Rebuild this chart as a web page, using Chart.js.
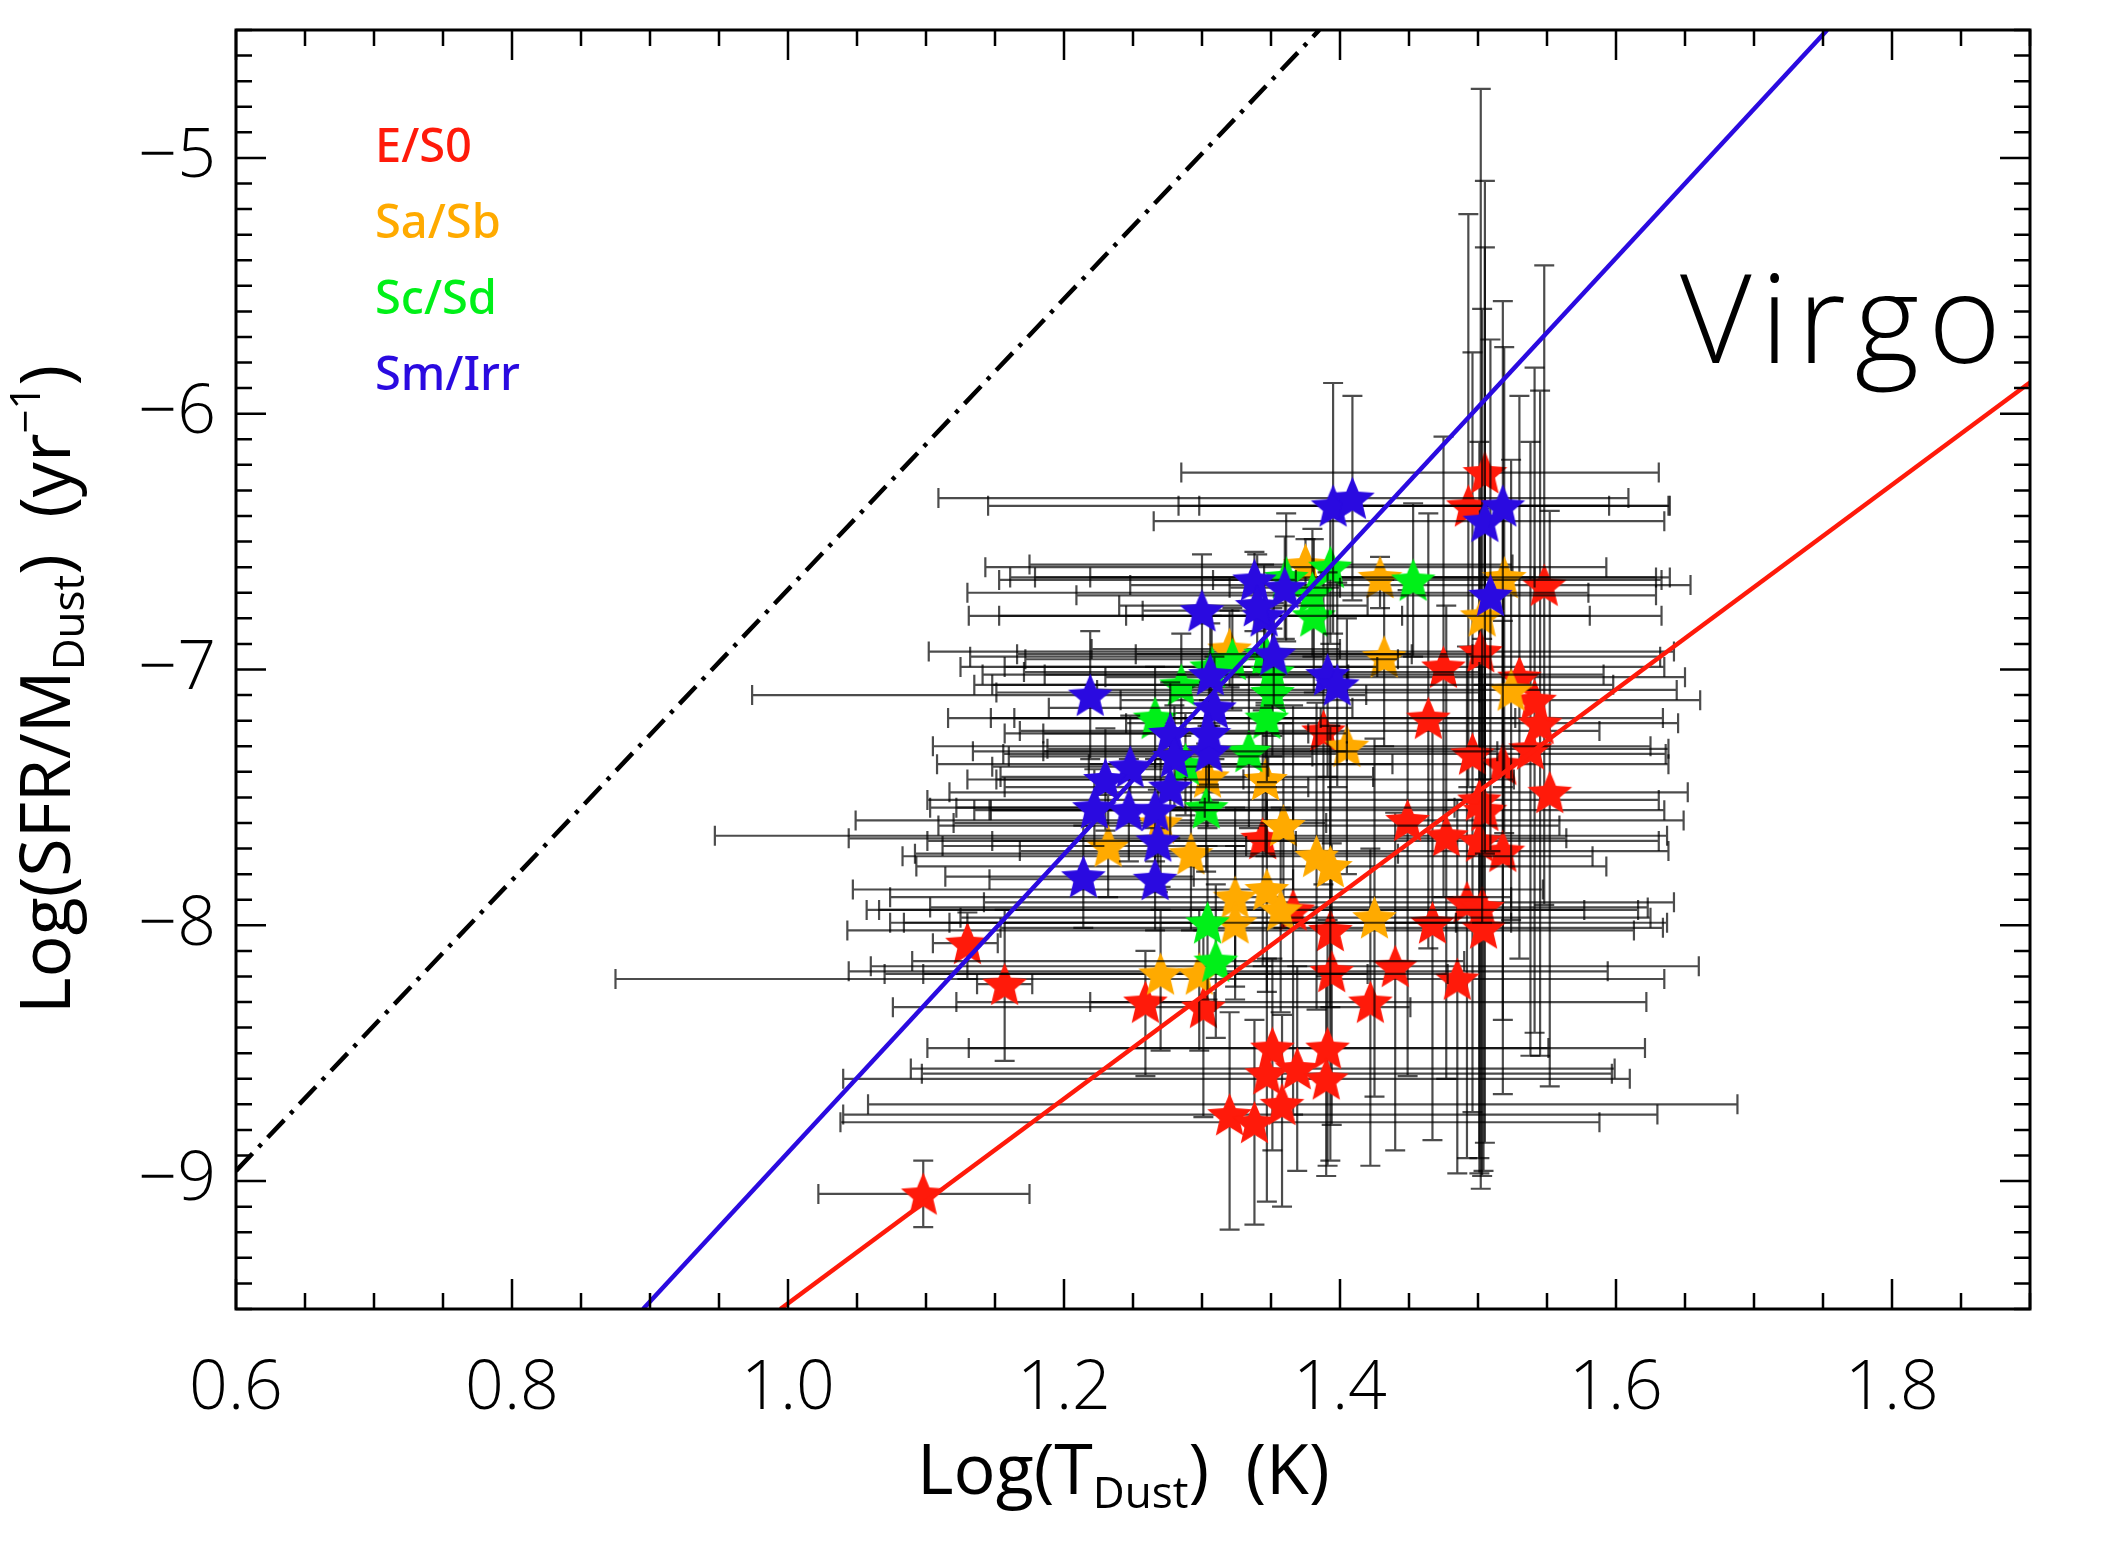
<!DOCTYPE html>
<html>
<head>
<meta charset="utf-8">
<title>Virgo - Log(SFR/Mdust) vs Log(Tdust)</title>
<script src="https://cdn.jsdelivr.net/npm/chart.js@4.4.1/dist/chart.umd.min.js"></script>
<style>
  html, body { margin: 0; padding: 0; background: #fff; }
  #wrap { width: 2115px; height: 1544px; }
</style>
</head>
<body>
<div id="wrap"><canvas id="chart" width="2115" height="1544"></canvas></div>
<script>
/* =========================
   DATA
========================= */
// E/S0
const redX   = [1.098, 1.130, 1.157, 1.259, 1.301, 1.351, 1.347, 1.369, 1.358, 1.320, 1.338, 1.394, 1.440, 1.422, 1.485, 1.391, 1.390, 1.388, 1.464, 1.496, 1.518, 1.538, 1.545, 1.552, 1.501, 1.505, 1.449, 1.477, 1.501, 1.518, 1.492, 1.503, 1.504, 1.467, 1.393, 1.366, 1.344, 1.505, 1.493, 1.548, 1.475, 1.502, 1.530, 1.541];
const redY   = [-9.05, -8.07, -8.23, -8.30, -8.32, -8.48, -8.58, -8.56, -8.70, -8.74, -8.77, -8.18, -8.16, -8.30, -8.21, -8.48, -8.60, -7.24, -7.19, -7.33, -7.37, -7.31, -7.21, -7.48, -7.51, -7.55, -7.59, -7.65, -7.67, -7.71, -7.91, -7.93, -8.01, -7.99, -8.02, -7.94, -7.66, -6.23, -6.36, -6.67, -6.99, -6.93, -7.03, -7.12];
const redXLo = [0.076, 0.025, 0.020, 0.040, 0.225, 0.250, 0.250, 0.280, 0.300, 0.280, 0.300, 0.350, 0.380, 0.300, 0.610, 0.260, 0.350, 0.220, 0.300, 0.340, 0.300, 0.350, 0.300, 0.435, 0.400, 0.370, 0.400, 0.530, 0.400, 0.350, 0.350, 0.400, 0.350, 0.350, 0.350, 0.300, 0.300, 0.220, 0.210, 0.300, 0.350, 0.400, 0.300, 0.300];
const redXHi = [0.077, 0.022, 0.020, 0.050, 0.150, 0.200, 0.250, 0.230, 0.330, 0.310, 0.250, 0.200, 0.220, 0.200, 0.150, 0.230, 0.220, 0.200, 0.170, 0.140, 0.120, 0.100, 0.100, 0.100, 0.130, 0.130, 0.200, 0.160, 0.130, 0.120, 0.150, 0.120, 0.130, 0.170, 0.220, 0.250, 0.220, 0.126, 0.146, 0.106, 0.160, 0.140, 0.120, 0.120];
const redYLo = [0.13, 0.14, 0.30, 0.29, 0.43, 0.40, 0.50, 0.40, 0.40, 0.45, 0.40, 0.60, 0.72, 0.64, 0.76, 0.46, 0.38, 0.60, 0.90, 1.40, 1.00, 1.20, 1.30, 1.15, 1.40, 1.30, 1.00, 0.95, 1.30, 0.95, 1.00, 1.05, 0.95, 0.85, 0.90, 0.80, 0.50, 1.20, 1.10, 1.25, 0.90, 2.10, 1.10, 1.30];
const redYHi = [0.13, 0.12, 0.29, 0.20, 0.30, 0.35, 0.45, 0.40, 0.35, 0.40, 0.40, 0.50, 0.60, 0.60, 0.70, 0.50, 0.40, 0.60, 0.80, 1.57, 1.00, 1.20, 1.30, 1.10, 1.40, 1.30, 0.90, 0.90, 1.30, 0.90, 1.00, 1.05, 0.95, 0.80, 0.80, 0.80, 0.50, 1.14, 1.14, 1.25, 0.90, 2.20, 1.10, 1.30];

// Sa/Sb
const orangeX   = [1.375, 1.429, 1.432, 1.519, 1.503, 1.524, 1.320, 1.304, 1.346, 1.359, 1.232, 1.292, 1.270, 1.324, 1.347, 1.357, 1.324, 1.383, 1.393, 1.425, 1.405, 1.270, 1.298];
const orangeY   = [-6.59, -6.64, -6.95, -6.64, -6.79, -7.08, -6.92, -7.42, -7.43, -7.61, -7.69, -7.72, -7.60, -7.89, -7.86, -7.94, -7.99, -7.73, -7.77, -7.97, -7.30, -8.19, -8.19];
const orangeXLo = [0.20, 0.25, 0.30, 0.30, 0.35, 0.30, 0.10, 0.15, 0.195, 0.25, 0.12, 0.20, 0.15, 0.25, 0.30, 0.30, 0.25, 0.30, 0.30, 0.30, 0.30, 0.20, 0.20];
const orangeXHi = [0.15, 0.20, 0.20, 0.12, 0.13, 0.12, 0.08, 0.12, 0.18, 0.20, 0.10, 0.15, 0.12, 0.20, 0.20, 0.22, 0.20, 0.20, 0.20, 0.20, 0.22, 0.15, 0.18];
const orangeYLo = [0.15, 0.12, 0.35, 1.00, 1.20, 0.90, 0.15, 0.20, 0.30, 0.40, 0.20, 0.30, 0.25, 0.35, 0.40, 0.40, 0.30, 0.60, 0.55, 0.70, 0.50, 0.30, 0.30];
const orangeYHi = [0.10, 0.08, 0.30, 0.90, 1.20, 0.90, 0.15, 0.20, 0.30, 0.40, 0.20, 0.30, 0.25, 0.35, 0.40, 0.40, 0.30, 0.60, 0.55, 0.70, 0.50, 0.25, 0.25];

// Sc/Sd
const greenX   = [1.453, 1.393, 1.381, 1.380, 1.361, 1.266, 1.347, 1.334, 1.303, 1.288, 1.304, 1.310, 1.285, 1.322, 1.346, 1.351, 1.307, 1.351];
const greenY   = [-6.65, -6.60, -6.79, -6.70, -6.64, -7.19, -7.19, -7.32, -7.54, -7.37, -7.99, -8.14, -7.06, -6.96, -6.94, -7.01, -6.99, -7.09];
const greenXLo = [0.30, 0.25, 0.25, 0.25, 0.20, 0.15, 0.20, 0.20, 0.20, 0.18, 0.22, 0.22, 0.15, 0.15, 0.18, 0.18, 0.15, 0.20];
const greenXHi = [0.18, 0.20, 0.20, 0.20, 0.18, 0.12, 0.18, 0.18, 0.18, 0.15, 0.18, 0.18, 0.12, 0.12, 0.15, 0.15, 0.12, 0.15];
const greenYLo = [0.30, 0.30, 0.30, 0.25, 0.25, 0.20, 0.25, 0.30, 0.25, 0.20, 0.30, 0.30, 0.20, 0.20, 0.20, 0.25, 0.20, 0.25];
const greenYHi = [0.30, 0.25, 0.30, 0.25, 0.25, 0.20, 0.25, 0.30, 0.25, 0.20, 0.30, 0.30, 0.20, 0.20, 0.20, 0.25, 0.20, 0.25];

// Sm/Irr
const blueX   = [1.219, 1.300, 1.338, 1.360, 1.345, 1.352, 1.306, 1.395, 1.409, 1.505, 1.518, 1.509, 1.391, 1.398, 1.309, 1.277, 1.280, 1.305, 1.248, 1.230, 1.277, 1.222, 1.247, 1.266, 1.268, 1.214, 1.266, 1.340, 1.305];
const blueY   = [-7.10, -6.77, -6.65, -6.68, -6.79, -6.94, -7.02, -6.36, -6.33, -6.42, -6.36, -6.71, -7.02, -7.06, -7.15, -7.25, -7.34, -7.32, -7.38, -7.43, -7.46, -7.54, -7.55, -7.55, -7.67, -7.81, -7.82, -6.75, -7.25];
const blueXLo = [0.245, 0.043, 0.030, 0.040, 0.10, 0.10, 0.12, 0.25, 0.30, 0.24, 0.22, 0.30, 0.25, 0.25, 0.12, 0.12, 0.12, 0.12, 0.10, 0.10, 0.12, 0.10, 0.10, 0.12, 0.12, 0.10, 0.12, 0.10, 0.12];
const blueXHi = [0.200, 0.033, 0.030, 0.040, 0.10, 0.10, 0.10, 0.20, 0.20, 0.13, 0.12, 0.12, 0.20, 0.20, 0.10, 0.10, 0.10, 0.10, 0.10, 0.10, 0.10, 0.08, 0.10, 0.10, 0.10, 0.08, 0.10, 0.08, 0.10];
const blueYLo = [0.25, 0.30, 0.20, 0.20, 0.20, 0.20, 0.20, 0.50, 0.40, 1.30, 1.10, 1.00, 0.40, 0.40, 0.20, 0.20, 0.20, 0.20, 0.20, 0.20, 0.20, 0.15, 0.20, 0.20, 0.20, 0.20, 0.20, 0.20, 0.20];
const blueYHi = [0.25, 0.22, 0.11, 0.20, 0.20, 0.20, 0.20, 0.48, 0.40, 1.07, 0.80, 1.00, 0.40, 0.40, 0.20, 0.20, 0.20, 0.20, 0.20, 0.20, 0.20, 0.15, 0.20, 0.20, 0.20, 0.20, 0.20, 0.20, 0.20];

// fit / reference lines (end points, data units)
const dashLineX = [0.60, 1.385];
const dashLineY = [-8.96, -4.50];
const blueFitX  = [0.895, 1.753];
const blueFitY  = [-9.50, -4.50];
const redFitX   = [0.9945, 1.90];
const redFitY   = [-9.50, -5.878];

// axes
const xTicks = [0.6, 0.8, 1.0, 1.2, 1.4, 1.6, 1.8];
const yTicks = [-9, -8, -7, -6, -5];
const xMinorStep = 0.05;
const yMinorStep = 0.1;

const legendItems = ["E/S0", "Sa/Sb", "Sc/Sd", "Sm/Irr"];

/* =========================
   STYLE
========================= */
const FONT = "'Open Sans', 'Liberation Sans', sans-serif";
const C_RED = "#ff1a0a";
const C_ORANGE = "#ffaa00";
const C_GREEN = "#00f018";
const C_BLUE = "#2a0ae0";
const CAP = 10;

function makeStar(color, r) {
  const s = Math.ceil(2 * r + 4);
  const c = document.createElement("canvas");
  c.width = s;
  c.height = s;
  const g = c.getContext("2d");
  g.fillStyle = color;
  g.beginPath();
  for (let i = 0; i < 10; i++) {
    const rad = i % 2 === 0 ? r : r * 0.45;
    const a = -Math.PI / 2 + (i * Math.PI) / 5;
    const px = s / 2 + rad * Math.cos(a);
    const py = s / 2 + 2 + rad * Math.sin(a);
    if (i === 0) g.moveTo(px, py);
    else g.lineTo(px, py);
  }
  g.closePath();
  g.fill();
  return c;
}

function pts(xs, ys) {
  return xs.map((x, i) => ({ x: x, y: ys[i] }));
}

function starSet(label, color, xs, ys, xlo, xhi, ylo, yhi) {
  return {
    label: label,
    data: pts(xs, ys),
    pointStyle: makeStar(color, 23.5),
    pointRadius: 23,
    showLine: false,
    errX: [xlo, xhi],
    errY: [ylo, yhi],
  };
}

function lineSet(label, color, xs, ys, dash) {
  return {
    label: label,
    data: pts(xs, ys),
    showLine: true,
    borderColor: color,
    borderWidth: 4.5,
    borderDash: dash || [],
    pointRadius: 0,
    fill: false,
  };
}

/* =========================
   PLUGINS
========================= */
const errorBars = {
  id: "errorBars",
  beforeDatasetDraw(chart, args) {
    const ds = chart.data.datasets[args.index];
    if (!ds.errX) return;
    const { ctx, chartArea: a } = chart;
    const xs = chart.scales.x;
    const ys = chart.scales.y;
    ctx.save();
    ctx.beginPath();
    ctx.rect(a.left, a.top, a.right - a.left, a.bottom - a.top);
    ctx.clip();
    ctx.strokeStyle = "rgba(0,0,0,0.7)";
    ctx.lineWidth = 2.2;
    ds.data.forEach((p, i) => {
      const px = xs.getPixelForValue(p.x);
      const py = ys.getPixelForValue(p.y);
      const x0 = xs.getPixelForValue(p.x - ds.errX[0][i]);
      const x1 = xs.getPixelForValue(p.x + ds.errX[1][i]);
      const y0 = ys.getPixelForValue(p.y - ds.errY[0][i]);
      const y1 = ys.getPixelForValue(p.y + ds.errY[1][i]);
      ctx.beginPath();
      ctx.moveTo(x0, py); ctx.lineTo(x1, py);
      ctx.moveTo(x0, py - CAP); ctx.lineTo(x0, py + CAP);
      ctx.moveTo(x1, py - CAP); ctx.lineTo(x1, py + CAP);
      ctx.moveTo(px, y0); ctx.lineTo(px, y1);
      ctx.moveTo(px - CAP, y0); ctx.lineTo(px + CAP, y0);
      ctx.moveTo(px - CAP, y1); ctx.lineTo(px + CAP, y1);
      ctx.stroke();
    });
    ctx.restore();
  },
};

// box with inward ticks on all four sides
const frame = {
  id: "frame",
  afterDatasetsDraw(chart) {
    const { ctx, chartArea: a } = chart;
    const xs = chart.scales.x;
    const ys = chart.scales.y;
    ctx.save();
    ctx.strokeStyle = "#000";
    ctx.lineWidth = 2.5;
    ctx.beginPath();
    for (let v = xs.min; v <= xs.max + 1e-9; v += xMinorStep) {
      const major = xTicks.some((t) => Math.abs(t - v) < 1e-6);
      const len = major ? 30 : 16;
      const px = xs.getPixelForValue(v);
      ctx.moveTo(px, a.bottom); ctx.lineTo(px, a.bottom - len);
      ctx.moveTo(px, a.top); ctx.lineTo(px, a.top + len);
    }
    for (let v = ys.min; v <= ys.max + 1e-9; v += yMinorStep) {
      const major = yTicks.some((t) => Math.abs(t - v) < 1e-6);
      const len = major ? 30 : 16;
      const py = ys.getPixelForValue(v);
      ctx.moveTo(a.left, py); ctx.lineTo(a.left + len, py);
      ctx.moveTo(a.right, py); ctx.lineTo(a.right - len, py);
    }
    ctx.stroke();
    ctx.lineWidth = 3;
    ctx.strokeRect(a.left, a.top, a.right - a.left, a.bottom - a.top);
    ctx.restore();
  },
  afterDraw(chart) {
    const { ctx } = chart;
    ctx.save();
    ctx.textBaseline = "alphabetic";

    // legend
    const cols = [C_RED, C_ORANGE, C_GREEN, C_BLUE];
    ctx.font = "500 47px 'Noto Sans', sans-serif";
    legendItems.forEach((t, i) => {
      ctx.fillStyle = cols[i];
      ctx.fillText(t, 375, 162 + i * 76);
    });

    // Virgo
    ctx.fillStyle = "#000";
    ctx.font = "300 124px " + FONT;
    ctx.letterSpacing = "9px";
    ctx.fillText("Virgo", 1680, 363);
    ctx.letterSpacing = "0px";

    // x title
    let x = 917;
    const yb = 1494;
    ctx.font = "70px " + FONT;
    ctx.fillText("Log(T", x, yb);
    x += ctx.measureText("Log(T").width;
    ctx.font = "44px " + FONT;
    ctx.fillText("Dust", x, yb + 14);
    x += ctx.measureText("Dust").width;
    ctx.font = "70px " + FONT;
    ctx.fillText(")  (K)", x, yb);

    // y title (rotated)
    ctx.translate(70, 1014);
    ctx.rotate(-Math.PI / 2);
    x = 0;
    ctx.font = "70px " + FONT;
    ctx.fillText("Log(SFR/M", x, 0);
    x += ctx.measureText("Log(SFR/M").width;
    ctx.font = "44px " + FONT;
    ctx.fillText("Dust", x, 14);
    x += ctx.measureText("Dust").width;
    ctx.font = "70px " + FONT;
    ctx.fillText(")  (yr", x, 0);
    x += ctx.measureText(")  (yr").width;
    ctx.font = "42px " + FONT;
    ctx.fillText("\u22121", x, -30);
    x += ctx.measureText("\u22121").width;
    ctx.font = "70px " + FONT;
    ctx.fillText(")", x, 0);
    ctx.restore();
  },
};

/* =========================
   CHART
========================= */
new Chart(document.getElementById("chart"), {
  type: "scatter",
  data: {
    datasets: [
      lineSet("dash-dot", "#000", dashLineX, dashLineY, [24, 9, 4, 9]),
      lineSet("Sm/Irr fit", C_BLUE, blueFitX, blueFitY),
      lineSet("E/S0 fit", C_RED, redFitX, redFitY),
      starSet("Sm/Irr", C_BLUE, blueX, blueY, blueXLo, blueXHi, blueYLo, blueYHi),
      starSet("Sc/Sd", C_GREEN, greenX, greenY, greenXLo, greenXHi, greenYLo, greenYHi),
      starSet("Sa/Sb", C_ORANGE, orangeX, orangeY, orangeXLo, orangeXHi, orangeYLo, orangeYHi),
      starSet("E/S0", C_RED, redX, redY, redXLo, redXHi, redYLo, redYHi),
    ],
  },
  options: {
    responsive: false,
    animation: false,
    events: [],
    devicePixelRatio: 1,
    layout: { padding: { top: 30, right: 85, left: 0, bottom: 0 } },
    plugins: {
      legend: { display: false },
      tooltip: { enabled: false },
    },
    scales: {
      x: {
        type: "linear",
        min: 0.6,
        max: 1.9,
        grid: { display: false, drawTicks: false, tickLength: 0 },
        border: { display: false },
        afterBuildTicks: (s) => { s.ticks = xTicks.map((v) => ({ value: v })); },
        afterFit: (s) => { s.height = 235; s.paddingLeft = 0; s.paddingRight = 0; },
        ticks: {
          color: "#000",
          font: { size: 68, family: FONT, weight: "300" },
          padding: 40,
          maxRotation: 0,
          autoSkip: false,
          callback: (v) => Number(v).toFixed(1),
        },
      },
      y: {
        type: "linear",
        min: -9.5,
        max: -4.5,
        grid: { display: false, drawTicks: false, tickLength: 0 },
        border: { display: false },
        afterBuildTicks: (s) => { s.ticks = yTicks.map((v) => ({ value: v })); },
        afterFit: (s) => { s.width = 236; s.paddingTop = 0; s.paddingBottom = 0; },
        ticks: {
          color: "#000",
          font: { size: 68, family: FONT, weight: "300" },
          padding: 20,
          autoSkip: false,
          callback: (v) => "\u2212" + Math.abs(v),
        },
      },
    },
  },
  plugins: [errorBars, frame],
});
</script>
</body>
</html>
